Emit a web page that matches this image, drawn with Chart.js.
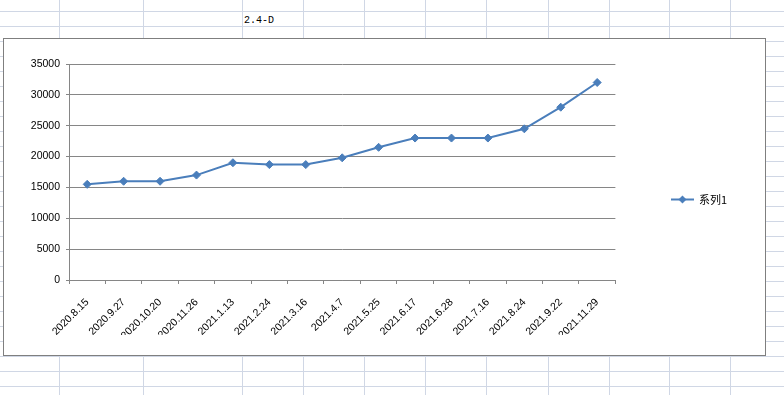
<!DOCTYPE html>
<html><head><meta charset="utf-8">
<script src="https://cdn.jsdelivr.net/npm/chart.js@4.4.0/dist/chart.umd.min.js"></script>
<style>
html,body{margin:0;padding:0;background:#fff;width:784px;height:395px;overflow:hidden;position:relative}
.h{position:absolute;left:0;width:784px;height:1px;background:#d0d7e5}
.v{position:absolute;top:0;height:395px;width:1px;background:#d0d7e5}
#title{position:absolute;left:244px;top:15px;font:10px "Liberation Mono",monospace;line-height:12px;color:#000;white-space:pre}
#box{position:absolute;left:3px;top:38px;width:763px;height:318px;box-sizing:border-box;border:1px solid #7f7f7f;background:#fff}
#c{display:block}
</style></head><body>
<div id="grid"></div>
<div id="title">2.4-D</div>
<div id="box"><canvas id="c" width="761" height="316"></canvas></div>
<script>
// ---- data ----
const categories = ['2020.8.15','2020.9.27','2020.10.20','2020.11.26','2021.1.13','2021.2.24','2021.3.16','2021.4.7','2021.5.25','2021.6.17','2021.6.28','2021.7.16','2021.8.24','2021.9.22','2021.11.29'];
const values = [15500, 16000, 16000, 17000, 19000, 18700, 18700, 19800, 21500, 23000, 23000, 23000, 24500, 28000, 32000];
const seriesName = '系列1';
const chartTitle = '2.4-D';
const yMin = 0, yMax = 35000, yStep = 5000;

// ---- spreadsheet background grid ----
const grid = document.getElementById('grid');
for (let y = 11; y < 395; y += 15) { const d = document.createElement('div'); d.className = 'h'; d.style.top = y + 'px'; grid.appendChild(d); }
[59, 143, 242, 303, 364, 425, 486, 548, 609, 669, 730].forEach(x => { const d = document.createElement('div'); d.className = 'v'; d.style.left = x + 'px'; grid.appendChild(d); });
document.getElementById('title').textContent = chartTitle;

// ---- legend marker (line + diamond) ----
const COLOR = '#4a7ebb';
const mk = document.createElement('canvas'); mk.width = 23; mk.height = 9;
(function(){ const g = mk.getContext('2d'); g.strokeStyle = COLOR; g.lineWidth = 2; g.beginPath(); g.moveTo(0, 4.5); g.lineTo(23, 4.5); g.stroke();
  g.fillStyle = COLOR; g.beginPath(); g.moveTo(11.5, 0.5); g.lineTo(15.5, 4.5); g.lineTo(11.5, 8.5); g.lineTo(7.5, 4.5); g.closePath(); g.fill(); })();

const tickFont = { family: '"Liberation Sans", Arial, sans-serif', size: 10.5 };
new Chart(document.getElementById('c'), {
  type: 'line',
  data: { labels: categories, datasets: [{ label: seriesName, data: values, borderColor: COLOR, backgroundColor: COLOR, borderWidth: 2, tension: 0, fill: false,
    pointStyle: 'rectRot', pointRadius: 4, pointHoverRadius: 4, pointBackgroundColor: COLOR, pointBorderColor: COLOR, pointBorderWidth: 1 }] },
  options: {
    responsive: false, animation: false, devicePixelRatio: 1,
    layout: { padding: { left: 0, top: 25, right: 28, bottom: 20 } },
    plugins: {
      tooltip: { enabled: false },
      legend: { position: 'right', maxWidth: 150,
        labels: { padding: 56, usePointStyle: true, pointStyleWidth: 22, color: '#000', font: { family: '"Noto Sans CJK SC", sans-serif', size: 11 },
          generateLabels: (chart) => [{ text: seriesName, pointStyle: mk, fillStyle: COLOR, strokeStyle: COLOR, lineWidth: 0, hidden: false, datasetIndex: 0, fontColor: '#000' }] } }
    },
    scales: {
      x: { offset: true, grid: { offset: true, drawOnChartArea: false, tickLength: 4, color: '#868686' }, border: { color: '#868686' },
        ticks: { autoSkip: false, minRotation: 45, maxRotation: 45, padding: 12, font: tickFont, color: '#000' },
        afterFit: (s) => { s.height = 55; } },
      y: { min: yMin, max: yMax, grid: { color: '#868686', tickLength: 3 }, border: { color: '#868686' },
        ticks: { stepSize: yStep, padding: 6, font: tickFont, color: '#000', callback: (v) => String(v) },
        afterFit: (s) => { s.width = 65; } }
    }
  }
});
</script>
</body></html>
